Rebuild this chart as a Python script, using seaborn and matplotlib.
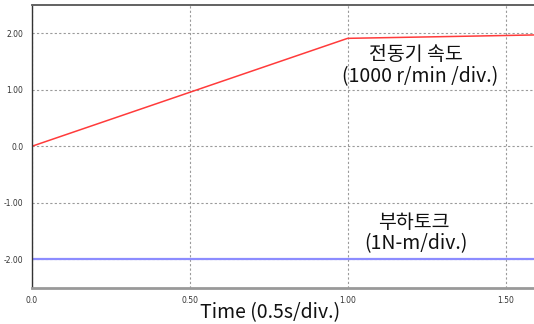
import matplotlib
matplotlib.use("Agg")
import matplotlib.pyplot as plt
import seaborn as sns
import pandas as pd

# data
speed_t = [0.0, 1.0, 1.2, 1.4, 1.59]
speed_v = [0.0, 1.91, 1.93, 1.95, 1.97]
torque_t = [0.0, 1.59]
torque_v = [-2.0, -2.0]
xticks = [0.0, 0.5, 1.0, 1.5]
xtick_labels = ["0.0", "0.50", "1.00", "1.50"]
yticks = [2.0, 1.0, 0.0, -1.0, -2.0]
ytick_labels = ["2.00", "1.00", "0.0", "-1.00", "-2.00"]

sns.set_theme(style="white")
plt.rcParams['font.family'] = ['Noto Sans CJK KR', 'DejaVu Sans']

fig = plt.figure(figsize=(5.34, 3.24), dpi=100)
ax = fig.add_axes([31.7/534, (324-287.7)/324, 1-31.7/534, (287.7-4.7)/324])

df_s = pd.DataFrame({"t": speed_t, "v": speed_v})
df_q = pd.DataFrame({"t": torque_t, "v": torque_v})
sns.lineplot(data=df_s, x="t", y="v", ax=ax, color="#ff3b3b", lw=1.1)
sns.lineplot(data=df_q, x="t", y="v", ax=ax, color="#8c8cff", lw=1.6)

ax.set_xlim(0, 1.59)
ax.set_ylim(-2.5, 2.505)
ax.set_xticks(xticks)
ax.set_xticklabels(xtick_labels, fontsize=5.5, color="#333333", family="DejaVu Sans")
ax.set_yticks(yticks)
ax.set_yticklabels(ytick_labels, fontsize=5.5, color="#333333", family="DejaVu Sans")
ax.tick_params(length=0, pad=6)
ax.grid(True, color="#9a9a9a", linestyle=(0, (2, 2)), linewidth=0.8)

ax.spines["right"].set_visible(False)
ax.spines["top"].set_color("#555555")
ax.spines["top"].set_linewidth(1.3)
ax.spines["bottom"].set_color("#999999")
ax.spines["bottom"].set_linewidth(2.0)
ax.spines["left"].set_color("#333333")
ax.spines["left"].set_linewidth(1.0)
ax.spines["left"].set_linestyle((0, (2, 1)))

ax.set_ylabel("")
ax.set_xlabel("Time (0.5s/div.)", fontsize=14, color="#111111")
ax.xaxis.set_label_coords(0.475, -0.05, transform=ax.transAxes)
ax.xaxis.label.set_va("top")

fs = 14
ax.text(1.215, 1.62, "전동기 속도", ha="center", va="center", fontsize=fs, color="#111111")
ax.text(1.23, 1.23, "(1000 r/min /div.)", ha="center", va="center", fontsize=fs, color="#111111")
ax.text(1.21, -1.35, "부하토크", ha="center", va="center", fontsize=fs, color="#111111")
ax.text(1.215, -1.72, "(1N-m/div.)", ha="center", va="center", fontsize=fs, color="#111111")

fig.savefig("out.png", dpi=100)
